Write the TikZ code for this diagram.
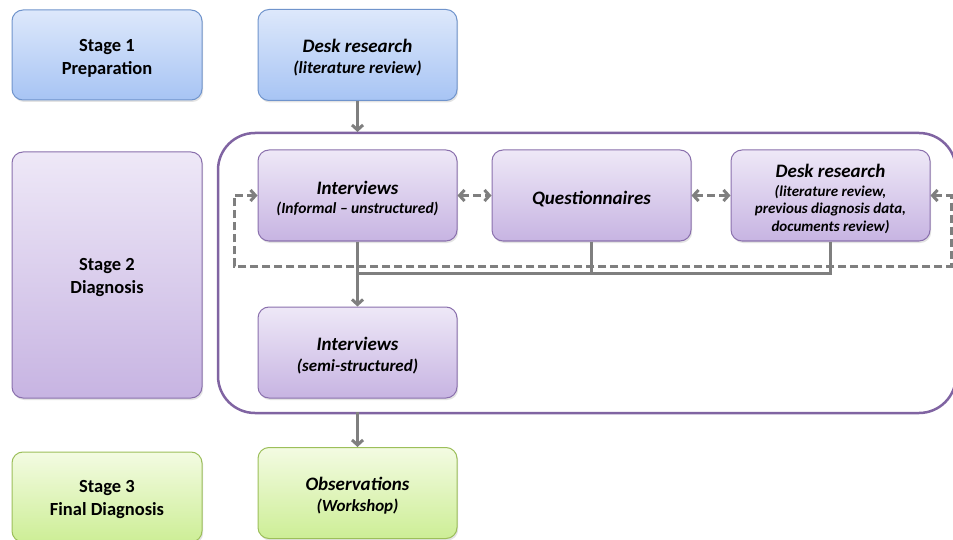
\documentclass[tikz,border=0pt]{standalone}
\usepackage{fontspec}
\setmainfont{Carlito}
\usetikzlibrary{arrows.meta,shadows}

\definecolor{blueTop}{HTML}{DDE8FB}
\definecolor{blueBot}{HTML}{A7C4F4}
\definecolor{blueEdge}{HTML}{7094CC}
\definecolor{purpTop}{HTML}{EEE8F7}
\definecolor{purpBot}{HTML}{C7B4E2}
\definecolor{purpEdge}{HTML}{8A70AD}
\definecolor{greenTop}{HTML}{F3FBE2}
\definecolor{greenBot}{HTML}{CDEE96}
\definecolor{greenEdge}{HTML}{9CBF5A}
\definecolor{frameEdge}{HTML}{8064A2}
\definecolor{flowGray}{HTML}{7F7F7F}

% heading line inside a method box, with a strut that sets the text a little lower
\newcommand{\ttl}[1]{{\fontsize{19}{21}\selectfont\rule{0pt}{19.5pt}#1}}
\newcommand{\stagetop}{\rule{0pt}{18pt}}

\tikzset{
  box/.style={rounded corners=11pt, line width=1pt, align=center,
    drop shadow={shadow xshift=1.2pt, shadow yshift=-2pt, opacity=0.22}},
  bluebox/.style={box, draw=blueEdge, top color=blueTop, bottom color=blueBot},
  purpbox/.style={box, draw=purpEdge, top color=purpTop, bottom color=purpBot},
  greenbox/.style={box, draw=greenEdge, top color=greenTop, bottom color=greenBot},
  stagebox/.style={minimum width=190pt, minimum height=90pt,
    font=\fontsize{18.5}{23}\selectfont\bfseries},
  workbox/.style={minimum width=199pt, minimum height=91pt,
    font=\fontsize{17}{21}\selectfont\bfseries\itshape},
  flow/.style={draw=flowGray, line width=3pt},
  tip/.style={-{Straight Barb[length=5pt,width=11pt]}},
  twotip/.style={{Straight Barb[length=5pt,width=11pt]}-{Straight Barb[length=5pt,width=11pt]}},
  loop/.style={flow, dash pattern=on 8pt off 4pt}
}

\begin{document}
\begin{tikzpicture}[x=1pt,y=-1pt]
\clip (0,0) rectangle (953,540);
\fill[white] (0,0) rectangle (953,540);

% Diagnosis frame (runs just past the right edge)
\draw[draw=frameEdge, line width=2.5pt, rounded corners=37pt]
  (218,133) rectangle (956,413);

% Stage column
\node[bluebox, stagebox] (s1) at (107,55) {\stagetop Stage 1\\Preparation};
\node[purpbox, stagebox, minimum height=246pt] (s2) at (107,275) {\stagetop Stage 2\\Diagnosis};
\node[greenbox, stagebox] (s3) at (107,497) {\stagetop Stage 3\\Final Diagnosis};

% Method boxes
\node[bluebox, workbox] (d1) at (357.5,55) {\ttl{Desk research}\\(literature review)};
\node[purpbox, workbox, font=\fontsize{15.5}{19}\selectfont\bfseries\itshape]
  (iv1) at (357.5,195.5) {\ttl{Interviews}\\(Informal -- unstructured)};
\node[purpbox, workbox] (q) at (591.5,195.5) {\ttl{Questionnaires}};
\node[purpbox, workbox, font=\fontsize{15}{17.5}\selectfont\bfseries\itshape]
  (d2) at (830.5,195.5) {\ttl{Desk research}\\[1.5pt](literature review,\\previous diagnosis data,\\documents review)};
\node[purpbox, workbox] (iv2) at (357.5,352.5) {\ttl{Interviews}\\(semi-structured)};
\node[greenbox, workbox] (obs) at (357.5,493) {\ttl{Observations}\\(Workshop)};

% Connector points
\coordinate (ctop) at (357.5,132);
\coordinate (cbot) at (357.5,412);
\coordinate (m) at (357.5,273);
\coordinate (rtop) at (951,195.5);
\coordinate (rbot) at (951,266);
\coordinate (lbot) at (234,266);
\coordinate (ltop) at (234,195.5);

% Solid flow
\draw[flow, tip] (d1.south) -- (ctop);
\draw[flow] (iv1.south) -- (m);
\draw[flow] (q.south) |- (m);
\draw[flow] (d2.south) |- (m);
\draw[flow, tip] (m) -- (iv2.north);
\draw[flow, tip] (cbot) -- (obs.north);

% Dashed feedback between methods
\draw[loop, twotip] (iv1.east) -- (q.west);
\draw[loop, twotip] (q.east) -- (d2.west);
\draw[loop, twotip]
  (d2.east) -- (rtop) -- (rbot) -- (lbot) -- (ltop) -- (iv1.west);
\end{tikzpicture}
\end{document}
